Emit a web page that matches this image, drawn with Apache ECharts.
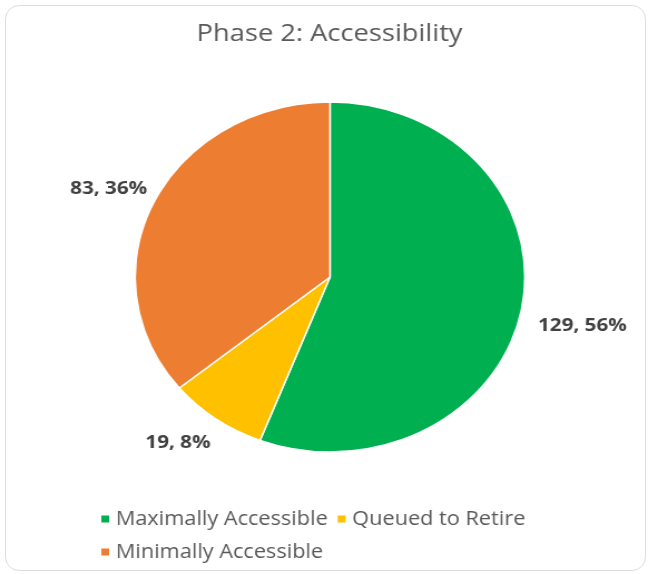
<!DOCTYPE html>
<html><head><meta charset="utf-8">
<script src="https://cdn.jsdelivr.net/npm/echarts@6/dist/echarts.min.js"></script>
<style>
html,body{margin:0;padding:0;background:#fff;width:648px;height:574px;overflow:hidden;}
#frame{position:absolute;left:5px;top:5px;width:641px;height:566px;border:1.5px solid #dddddd;border-radius:14px;box-sizing:border-box;}
/* the chart is laid out a little narrower, then widened to the frame */
#chart{position:absolute;left:0;top:0;width:582px;height:574px;transform:scaleX(1.1134);transform-origin:0 0;}
</style></head><body>
<div id="frame"></div>
<div id="chart"></div>
<script>
const titleText = 'Phase 2: Accessibility';
const categories = ['Maximally Accessible', 'Queued to Retire', 'Minimally Accessible'];
const counts = [129, 19, 83];
const sliceColors = ['#00B050', '#FFC000', '#ED7D31'];

// small label offsets (dx, dy) per slice, in px
const labelNudges = [[0, 15], [6, 16], [8, -9]];

const font = '"Open Sans", Lato, sans-serif';
const chart = echarts.init(document.getElementById('chart'), null, {renderer: 'canvas'});

chart.setOption({
  animation: false,
  color: sliceColors,
  title: {
    text: titleText,
    left: 296,
    textAlign: 'center',
    top: 22,
    padding: 0,
    textStyle: {fontFamily: font, fontSize: 24.5, fontWeight: 'normal', color: '#595959'}
  },
  legend: {
    data: categories,
    left: 89,
    top: 506,
    width: 470,
    icon: 'rect',
    itemWidth: 9,
    itemHeight: 9,
    itemGap: 7,
    padding: 0,
    textStyle: {fontFamily: font, fontSize: 19.5, color: '#595959', lineHeight: 26}
  },
  series: [{
    type: 'pie',
    center: [296.4, 277],
    radius: 175,
    startAngle: 90,
    clockwise: true,
    percentPrecision: 0,
    itemStyle: {borderColor: '#ffffff', borderWidth: 1.5},
    label: {
      show: true,
      position: 'outside',
      formatter: '{c}, {d}%',
      fontFamily: font,
      fontSize: 18.5,
      fontWeight: 'bold',
      color: '#404040'
    },
    labelLine: {show: false, length: 10, length2: 0},
    labelLayout: function (params) {
      const n = labelNudges[params.dataIndex];
      return {dx: n[0], dy: n[1]};
    },
    emphasis: {disabled: true},
    data: categories.map((name, i) => ({name: name, value: counts[i]}))
  }]
});
</script>
</body></html>
